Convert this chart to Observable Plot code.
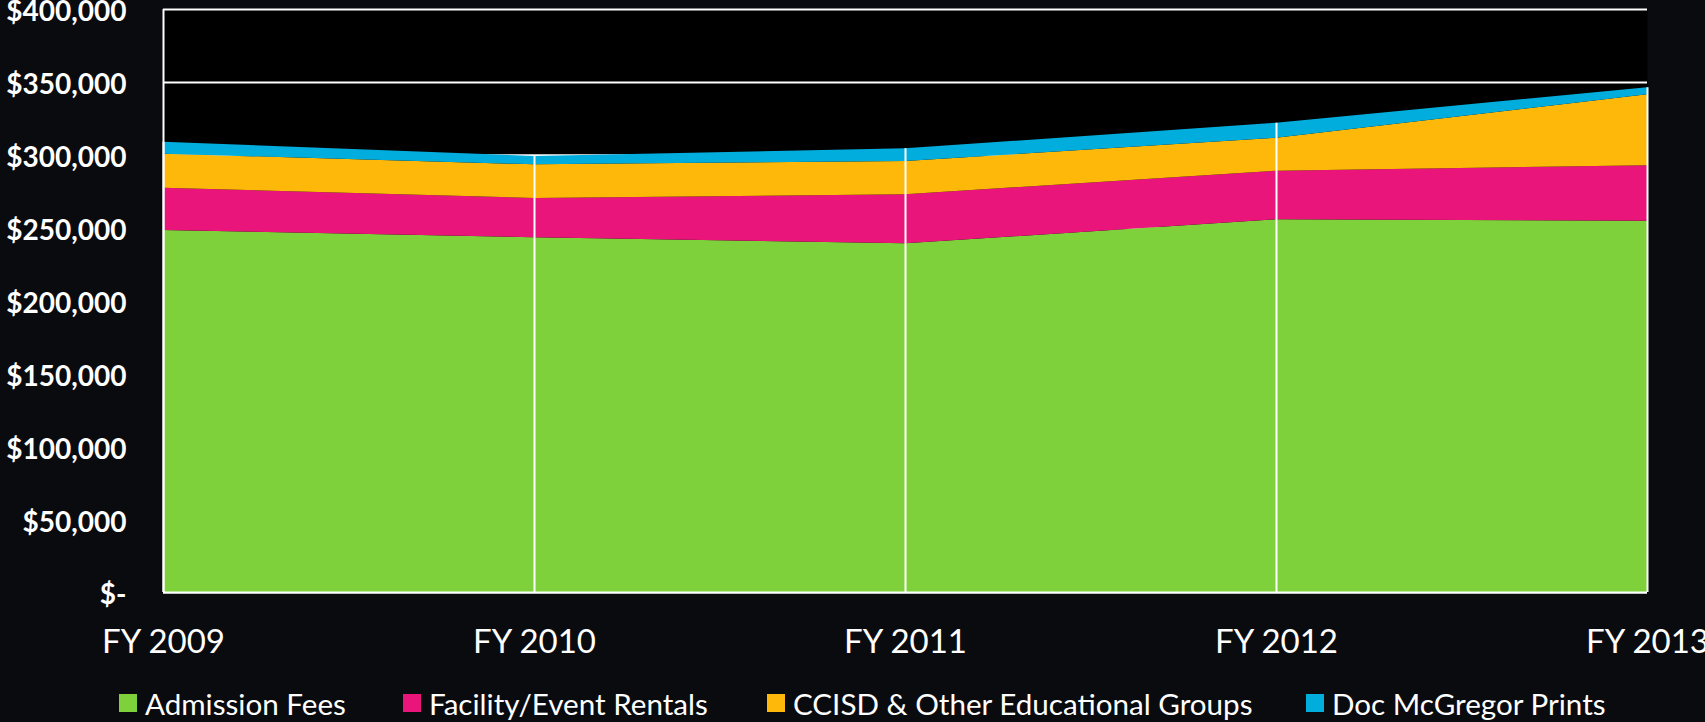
<!DOCTYPE html>
<html>
<head>
<meta charset="utf-8">
<script src="https://cdn.jsdelivr.net/npm/d3@7"></script>
<script src="https://cdn.jsdelivr.net/npm/@observablehq/plot@0.6"></script>
<style>
  html, body { margin: 0; padding: 0; background: #0a0b0f; overflow: hidden; }
  #chart { width: 1705px; }
  #legend { position: relative; width: 1705px; height: 38px; font-family: Lato, "Open Sans", sans-serif; font-size: 29.6px; color: #fff; }
  .item { position: absolute; top: 0; height: 38px; display: flex; align-items: center; white-space: nowrap; }
  .sw { width: 18px; height: 18px; margin-right: 8px; flex: none; }
</style>
</head>
<body>
<div id="chart"></div>
<div id="legend"></div>
<script>
const years = [2009, 2010, 2011, 2012, 2013];
const seriesNames = ["Admission Fees", "Facility/Event Rentals", "CCISD & Other Educational Groups", "Doc McGregor Prints"];
const admission = [248400, 243400, 239200, 255700, 254800];
const facility = [29000, 26900, 33700, 33400, 38000];
const ccisd = [23300, 23100, 22800, 22600, 48700];
const prints = [8200, 5800, 8700, 10300, 4800];
const yTicks = [0, 50000, 100000, 150000, 200000, 250000, 300000, 350000, 400000];
const colors = ["#7fd13b", "#ea157a", "#feb80a", "#00addc"];

const seriesValues = [admission, facility, ccisd, prints];
const data = [];
years.forEach((yr, i) => {
  seriesNames.forEach((s, j) => data.push({year: yr, series: s, value: seriesValues[j][i]}));
});
const totals = years.map((yr, i) => ({year: yr, total: seriesValues.reduce((a, arr) => a + arr[i], 0)}));

const fmt = d3.format(",");
const chart = Plot.plot({
  width: 1705,
  height: 684,
  marginLeft: 163,
  marginRight: 58,
  marginTop: 9,
  marginBottom: 92,
  style: { background: "transparent", color: "white", fontFamily: "Lato, 'Open Sans', sans-serif", overflow: "visible" },
  x: { type: "linear", domain: [2009, 2013], label: null },
  y: { domain: [0, 400000], label: null },
  color: { domain: seriesNames, range: colors },
  marks: [
    Plot.frame({ fill: "black", stroke: null }),
    Plot.ruleY(yTicks, { stroke: "white", strokeWidth: 2 }),
    Plot.areaY(data, { x: "year", y: "value", fill: "series", order: null }),
    Plot.ruleX(totals, { x: "year", y1: d => 0, y2: "total", stroke: "white", strokeWidth: 2 }),
    Plot.ruleX([2009], { y1: 0, y2: 400000, stroke: "white", strokeWidth: 2 }),
    Plot.ruleY([0], { stroke: "white", strokeWidth: 2 }),
    Plot.axisY({ ticks: yTicks, tickSize: 0, tickPadding: 37, fontSize: 28, fontWeight: "bold", label: null,
      tickFormat: d => d === 0 ? "$-" : "$" + fmt(d), dy: 3 }),
    Plot.axisX({ ticks: years, tickSize: 0, tickPadding: 37, fontSize: 33, label: null,
      tickFormat: d => "FY " + d })
  ]
});
document.getElementById("chart").appendChild(chart);

const legendLefts = [119, 403, 767, 1306];
const legend = document.getElementById("legend");
seriesNames.forEach((s, i) => {
  const it = document.createElement("div");
  it.className = "item";
  it.style.left = legendLefts[i] + "px";
  const sw = document.createElement("span");
  sw.className = "sw";
  sw.style.background = colors[i];
  const tx = document.createElement("span");
  tx.textContent = s;
  it.appendChild(sw);
  it.appendChild(tx);
  legend.appendChild(it);
});
</script>
</body>
</html>
